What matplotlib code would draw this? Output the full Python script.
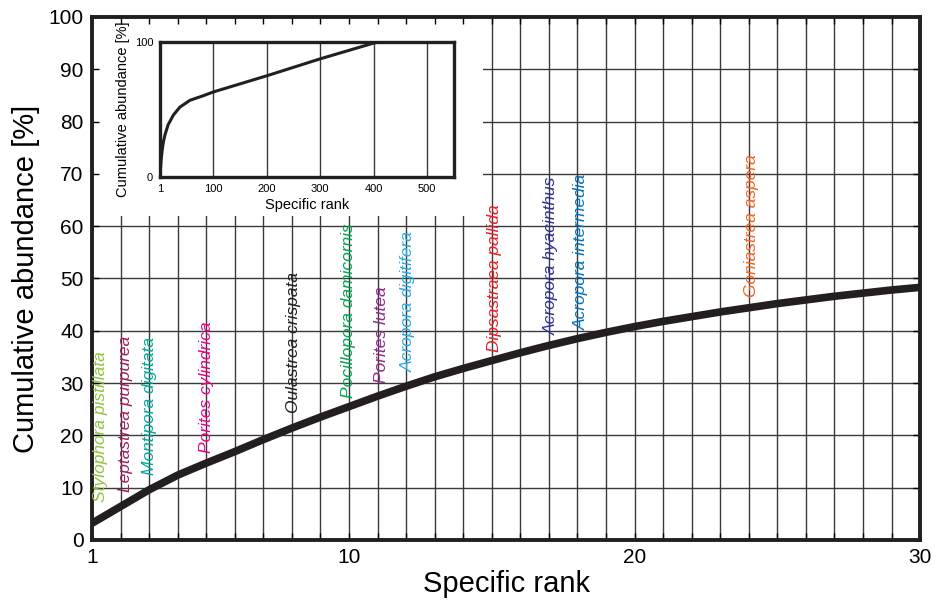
import matplotlib
matplotlib.use("Agg")
import matplotlib.pyplot as plt
from matplotlib.patches import Rectangle

plt.rcParams['font.family'] = ['Liberation Sans', 'DejaVu Sans']

# main curve: first 30 ranks
ranks = list(range(1, 31))
cum_abundance = [3.2, 6.4, 9.6, 12.4, 14.7, 16.9, 19.2, 21.4, 23.5, 25.5,
                 27.5, 29.4, 31.2, 32.8, 34.3, 35.8, 37.2, 38.5, 39.7, 40.8,
                 41.8, 42.7, 43.6, 44.4, 45.2, 45.9, 46.6, 47.2, 47.8, 48.3]

# full curve shown in the inset
inset_ranks = [1, 2, 3, 5, 7, 10, 16, 26, 38, 57, 82, 100, 200, 300, 400, 409]
inset_abundance = [0, 7.0, 12.5, 20.0, 25.5, 31.0, 38.7, 46.0, 51.8, 56.9, 60.3,
                   63.0, 75.0, 87.6, 99.3, 100]

species = ['Stylophora pistillata', 'Leptastrea purpurea', 'Montipora digitata',
           'Porites cylindrica', 'Oulastrea crispata', 'Pocillopora damicornis',
           'Porites lutea', 'Acropora digitifera', 'Dipsastraea pallida',
           'Acropora hyacinthus', 'Acropora intermedia', 'Goniastrea aspera']
species_rank = [1, 2, 3, 5, 8, 10, 11, 12, 15, 17, 18, 24]
species_color = ['#8dc63f', '#9e1f63', '#00a99d', '#ec008c', '#231f20', '#00a651',
                 '#92278f', '#29abe2', '#ed1c24', '#2e3192', '#0072bc', '#f26522']
# label nudges (points)
label_dx = [5.8, 3.3, 0, 0, 1, 0, 3.1, 1.6, 2, 2, 3.1, 2]
label_dy = [15.5, 10.5, 10.5, 7.2, 10.5, 6.5, 9.5, 10.5, 6.5, 7.5, 6.5, 8.0]

fig = plt.figure(figsize=(9.36, 6.02), dpi=100)
ax = fig.add_axes([0.0983, 0.103, 0.8847, 0.8688])

# grid drawn by hand so the inset patch can hide part of it
for r in range(2, 30):
    ax.axvline(r, color='#3a3a3a', lw=1.0, zorder=0.5)
for v in range(10, 100, 10):
    ax.axhline(v, color='#3a3a3a', lw=1.0, zorder=0.5)
ax.add_patch(Rectangle((1, 62), 13.7, 38, facecolor='white', edgecolor='none', zorder=1))

ax.plot(ranks, cum_abundance, color='#231f20', lw=5.5, solid_capstyle='butt', zorder=2)

for name, r, c, dx, dy in zip(species, species_rank, species_color, label_dx, label_dy):
    ax.annotate(name, xy=(r, cum_abundance[r - 1]), xytext=(dx, dy),
                textcoords='offset points', rotation=90, ha='center', va='bottom',
                color=c, fontsize=12.5, fontstyle='italic', zorder=3)

ax.set_xlim(1, 30)
ax.set_ylim(0, 100)
ax.set_xticks(range(1, 31))
ax.set_xticklabels([str(r) if r in (1, 10, 20, 30) else '' for r in range(1, 31)])
ax.set_yticks(range(0, 101, 10))
ax.tick_params(direction='in', length=5, width=1, top=True, right=True,
               labelsize=15, pad=6)
for s in ax.spines.values():
    s.set_linewidth(2.8)
    s.set_color('#231f20')
ax.set_xlabel('Specific rank', fontsize=21, labelpad=2)
ax.set_ylabel('Cumulative abundance [%]', fontsize=21, labelpad=6)

# inset
axi = fig.add_axes([0.171, 0.706, 0.314, 0.224])
for g in [100, 200, 300, 400, 500]:
    axi.axvline(g, color='#3a3a3a', lw=1.0, zorder=0.5)
axi.plot(inset_ranks, inset_abundance, color='#231f20', lw=2.2, zorder=2)
axi.set_xlim(1, 550)
axi.set_ylim(0, 100)
axi.set_xticks([1, 100, 200, 300, 400, 500])
axi.set_yticks([0, 100])
axi.tick_params(length=0, labelsize=8, pad=5)
for s in axi.spines.values():
    s.set_linewidth(2.4)
    s.set_color('#231f20')
axi.set_xlabel('Specific rank', fontsize=10.5, labelpad=3)
axi.set_ylabel('Cumulative abundance [%]', fontsize=10.5, labelpad=3)

fig.savefig('out.png', dpi=100)
